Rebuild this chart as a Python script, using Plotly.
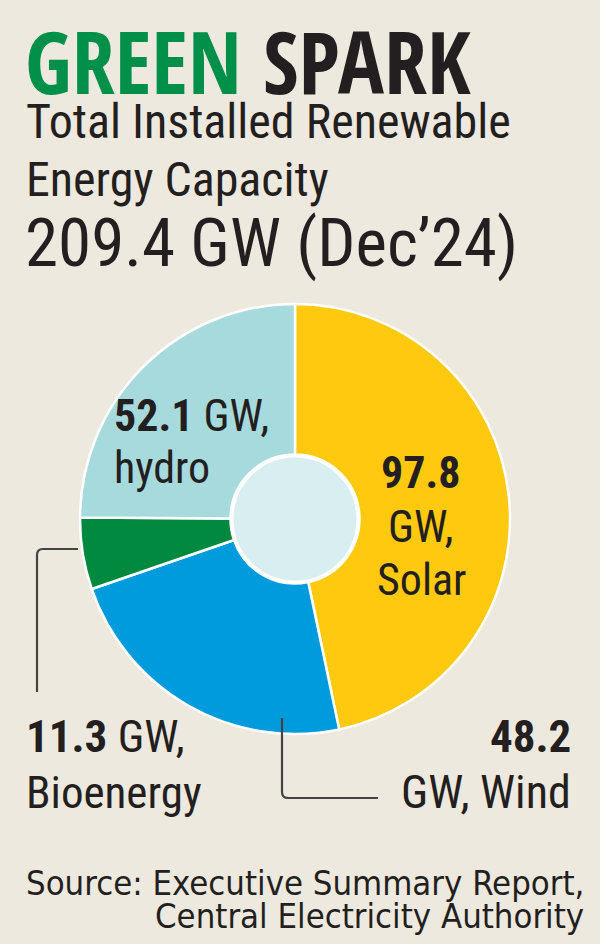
import plotly.graph_objects as go

# ---- data ----
sources = ["Solar", "Wind", "Bioenergy", "Hydro"]
capacity_gw = [97.8, 48.2, 11.3, 52.1]
slice_colors = ["#FFC90F", "#009BDC", "#00893F", "#A7DADC"]
total_gw = 209.4

W, H = 600, 944
BG = "#EEE9DE"
INK = "#231F20"
BODY = "Roboto Condensed, DejaVu Sans Condensed, sans-serif"
SRC = "DejaVu Sans Condensed, Roboto Condensed, sans-serif"
HEAD = "Open Sans Condensed, Roboto Condensed, sans-serif"

def X(px):
    return px / W

def Y(py):
    return 1 - py / H

# pie geometry (pixels)
cx, cy, R = 295, 519, 215
hole_r = 63

fig = go.Figure()
fig.add_trace(go.Pie(
    labels=sources,
    values=capacity_gw,
    sort=False,
    direction="clockwise",
    rotation=0,
    hole=0.30,
    textinfo="none",
    hoverinfo="label+value",
    marker=dict(colors=slice_colors, line=dict(color="white", width=2.5)),
    domain=dict(x=[X(cx - R), X(cx + R)], y=[Y(cy + R), Y(cy - R)]),
    showlegend=False,
))

shapes = []
shapes.append(dict(type="circle", xref="paper", yref="paper", layer="above",
                   x0=X(cx - hole_r), x1=X(cx + hole_r), y0=Y(cy + hole_r), y1=Y(cy - hole_r),
                   fillcolor="#D9EEF0", line=dict(color="white", width=3)))

def leader(points, r=6):
    (x1, y1), (x2, y2), (x3, y3) = points
    def toward(a, b, d):
        dx, dy = b[0] - a[0], b[1] - a[1]
        L = (dx * dx + dy * dy) ** 0.5
        return (a[0] + dx / L * d, a[1] + dy / L * d)
    pa = toward((x2, y2), (x1, y1), r)
    pb = toward((x2, y2), (x3, y3), r)
    path = (f"M {X(x1)},{Y(y1)} L {X(pa[0])},{Y(pa[1])} "
            f"Q {X(x2)},{Y(y2)} {X(pb[0])},{Y(pb[1])} L {X(x3)},{Y(y3)}")
    return dict(type="path", xref="paper", yref="paper", path=path,
                line=dict(color="#444444", width=2.2), layer="above")

shapes.append(leader([(78, 549), (37, 549), (37, 692)]))
shapes.append(leader([(282, 718), (282, 798), (378, 798)]))

ann = []
def txt(text, x, y, size, xanchor="left", family=BODY, color=INK, yanchor="middle"):
    ann.append(dict(text=text, x=X(x), y=Y(y), xref="paper", yref="paper",
                    xanchor=xanchor, yanchor=yanchor, showarrow=False,
                    font=dict(family=family, size=size, color=color)))

txt("<b><span style='color:#00904A'>GREEN</span> SPARK</b>", 23, 0, 86, family=HEAD, yanchor="top")
txt("Total Installed Renewable", 24, 122, 48)
txt("Energy Capacity", 24, 180, 48)
txt(f"{total_gw} GW (Dec\u201924)", 23, 243, 67)

txt(f"<b>{capacity_gw[3]}</b> GW,", 112, 416, 44)
txt("hydro", 112, 468, 44)

txt(f"<b>{capacity_gw[0]}</b>", 421, 473, 44, xanchor="center")
txt("GW,", 421, 527, 44, xanchor="center")
txt("Solar", 421, 580, 44, xanchor="center")

txt(f"<b>{capacity_gw[2]}</b> GW,", 24, 736, 45)
txt("Bioenergy", 24, 792, 45)

txt(f"<b>{capacity_gw[1]}</b>", 573, 736, 45, xanchor="right")
txt("GW, Wind", 573, 792, 46, xanchor="right")

txt("Source: Executive Summary Report,", 24, 883, 34.4, family=SRC)
txt("Central Electricity Authority", 586, 916, 34.4, xanchor="right", family=SRC)

fig.update_layout(
    width=W, height=H,
    margin=dict(l=0, r=0, t=0, b=0),
    paper_bgcolor=BG, plot_bgcolor=BG,
    shapes=shapes, annotations=ann,
)

fig.write_html("out.html", config={"displayModeBar": False},
               post_script="document.body.style.margin='0';")
